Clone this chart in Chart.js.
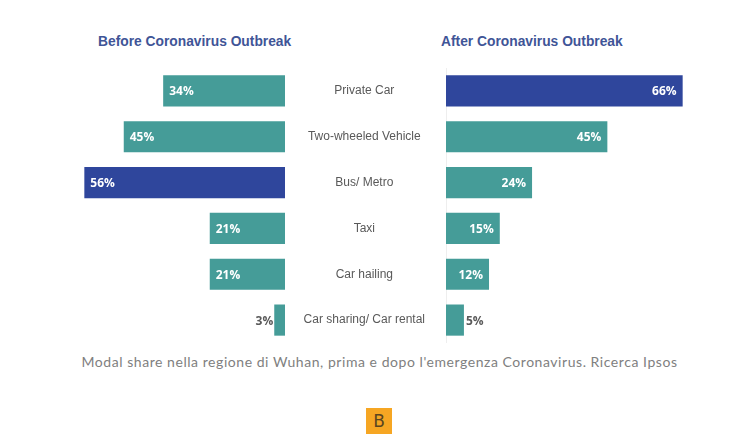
<!DOCTYPE html>
<html>
<head>
<meta charset="utf-8">
<script src="https://cdn.jsdelivr.net/npm/chart.js@4"></script>
<style>
  html, body { margin: 0; padding: 0; background: #fff; }
  body { width: 750px; height: 437px; position: relative; overflow: hidden; }
  .box { position: absolute; top: 68px; height: 275px; }
  #left-box { left: 70px; width: 215px; }
  #right-box { left: 285px; width: 412px; }
  .title { position: absolute; top: 34px; font: bold 13.8px "Liberation Sans", sans-serif; color: #3f5597; white-space: nowrap; }
  #caption { position: absolute; left: 0; width: 759px; top: 353px; text-align: center; font: 14px "Lato", sans-serif; letter-spacing: 0.55px; color: #808080; white-space: nowrap; }
  #logo { position: absolute; left: 366px; top: 408px; width: 26px; height: 26px; background: #f6a623; color: #5a4520; font: 17px/26px "DejaVu Sans", sans-serif; text-align: center; }
</style>
</head>
<body>
<div class="title" style="left:98px">Before Coronavirus Outbreak</div>
<div class="title" style="left:441px">After Coronavirus Outbreak</div>
<div class="box" id="left-box"><canvas id="before-chart"></canvas></div>
<div class="box" id="right-box"><canvas id="after-chart"></canvas></div>
<div id="caption">Modal share nella regione di Wuhan, prima e dopo l'emergenza Coronavirus. Ricerca Ipsos</div>
<div id="logo">B</div>
<script>
// Data
const categories = ['Private Car', 'Two-wheeled Vehicle', 'Bus/ Metro', 'Taxi', 'Car hailing', 'Car sharing/ Car rental'];
const beforeValues = [34, 45, 56, 21, 21, 3];
const afterValues = [66, 45, 24, 15, 12, 5];

const TEAL = '#459c98';
const BLUE = '#2f469c';
const AXIS_LINE = '#eeeeee';
const SMALL_BAR = 10; // below this the label goes outside the bar

// The biggest bar of each side is the dark one
function barColors(values) {
    const top = Math.max(...values);
    return values.map(v => v === top ? BLUE : TEAL);
}

// Writes the percentages on the bars
const valueLabels = {
    id: 'valueLabels',
    afterDatasetsDraw(chart) {
        const ctx = chart.ctx;
        const reversed = chart.options.scales.x.reverse;
        const values = chart.data.datasets[0].data;
        ctx.save();
        ctx.font = 'bold 12px "Open Sans", sans-serif';
        ctx.textBaseline = 'middle';
        chart.getDatasetMeta(0).data.forEach((bar, i) => {
            const outside = values[i] < SMALL_BAR;
            ctx.fillStyle = outside ? '#5a5a5a' : '#ffffff';
            if (reversed) {
                ctx.textAlign = outside ? 'right' : 'left';
                ctx.fillText(values[i] + '%', bar.x + (outside ? -1 : 6), bar.y + 1);
            } else {
                ctx.textAlign = outside ? 'left' : 'right';
                ctx.fillText(values[i] + '%', bar.x + (outside ? 2 : -6), bar.y + 1);
            }
        });
        ctx.restore();
    }
};

function makeChart(id, values, xMax, reversed, showLabels) {
    return new Chart(document.getElementById(id).getContext('2d'), {
        type: 'bar',
        data: {
            labels: categories,
            datasets: [{
                data: values,
                backgroundColor: barColors(values),
                barPercentage: 0.68,
                categoryPercentage: 1
            }]
        },
        options: {
            indexAxis: 'y',
            responsive: true,
            maintainAspectRatio: false,
            animation: false,
            layout: { padding: 0, autoPadding: false },
            plugins: { legend: { display: false }, tooltip: { enabled: false } },
            scales: {
                x: { display: false, min: 0, max: xMax, reverse: reversed },
                y: {
                    position: reversed ? 'right' : 'left',
                    display: true,
                    grid: { display: false, drawTicks: false },
                    border: { color: AXIS_LINE, width: 1 },
                    afterFit(scale) {
                        scale.width = showLabels ? 161 : 0;
                        // tick padding would otherwise shrink the plot height
                        scale.paddingTop = 0;
                        scale.paddingBottom = 0;
                    },
                    ticks: {
                        display: showLabels,
                        crossAlign: 'center',
                        padding: 21,
                        color: '#595959',
                        font: { family: '"Liberation Sans", sans-serif', size: 12 }
                    }
                }
            }
        },
        plugins: [valueLabels]
    });
}

makeChart('before-chart', beforeValues, 60, true, false);
makeChart('after-chart', afterValues, 70, false, true);
</script>
</body>
</html>
